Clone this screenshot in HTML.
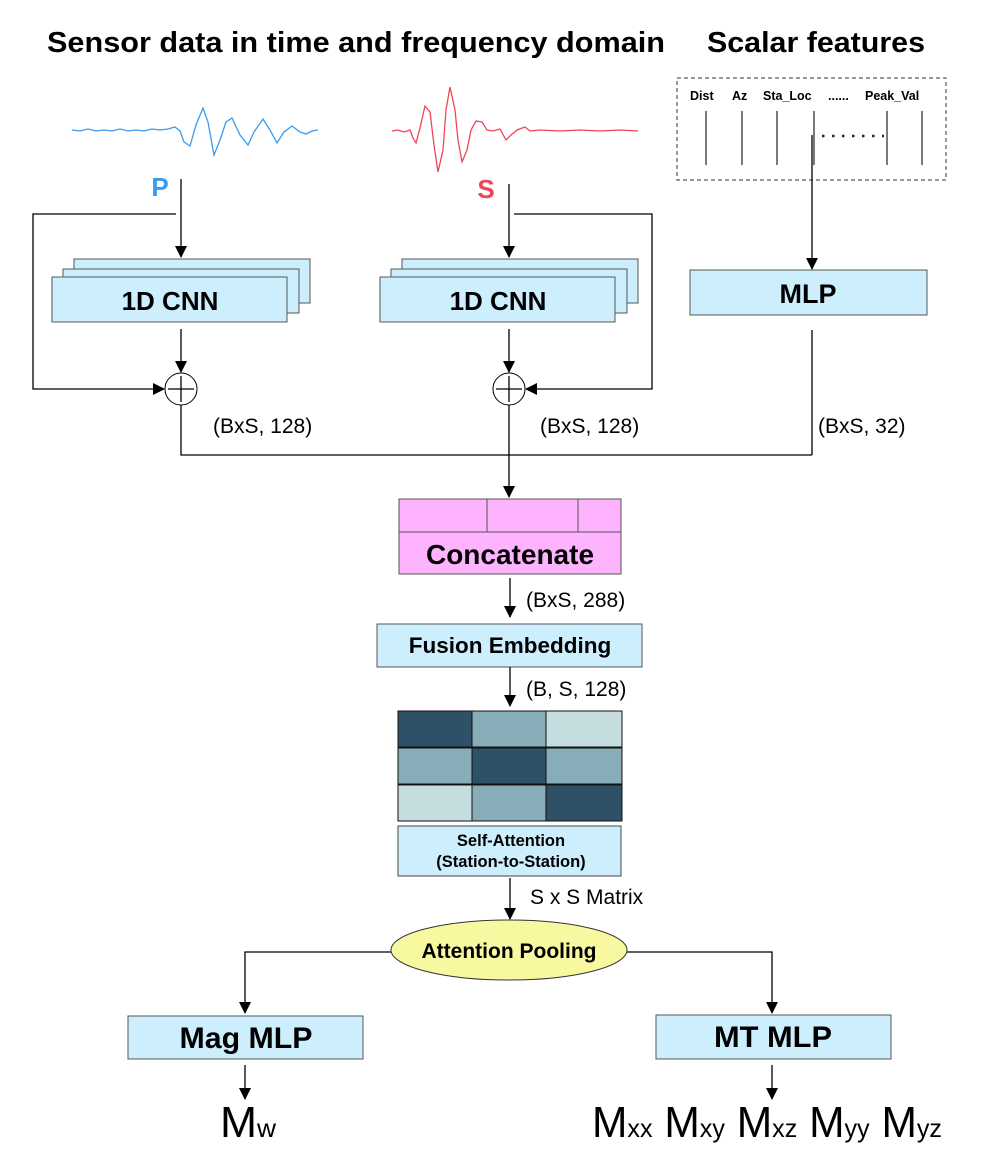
<!DOCTYPE html>
<html><head><meta charset="utf-8"><style>
html,body{margin:0;padding:0;background:#fff;}
svg{display:block;font-family:"Liberation Sans",Arial,sans-serif;}
</style></head><body>
<svg width="996" height="1168" viewBox="0 0 996 1168" xmlns="http://www.w3.org/2000/svg">
<defs>
<marker id="ah" markerWidth="12" markerHeight="12" refX="11" refY="6" orient="auto" markerUnits="userSpaceOnUse">
<path d="M0,0 L12,6 L0,12 z" fill="#000"/>
</marker>
</defs>
<text x="47" y="52" font-size="29" font-weight="bold" textLength="618" lengthAdjust="spacingAndGlyphs">Sensor data in time and frequency domain</text>
<text x="707" y="52" font-size="29" font-weight="bold" textLength="218" lengthAdjust="spacingAndGlyphs">Scalar features</text>

<!-- P waveform -->
<polyline fill="none" stroke="#3a9af0" stroke-width="1.3" points="72,130 80,131 88,129 96,131 104,130 112,131 120,129 128,131 136,130 144,131 152,129 160,130 168,129 175,127 180,131 184,142 190,146 196,125 203,108 208,122 214,155 220,140 226,122 232,118 240,135 248,145 254,132 263,119 270,130 277,143 284,132 292,126 300,132 306,134 312,131 318,130"/>
<!-- S waveform -->
<polyline fill="none" stroke="#f04558" stroke-width="1.3" points="392,131 398,130 404,132 410,130 413,138 416,143 420,128 425,106 430,112 434,145 438,172 443,150 446,110 450,87 455,110 458,140 462,162 467,150 471,130 476,121 482,122 487,130 493,131 500,129 506,140 511,135 517,130 525,127 530,131 540,130 560,131 580,130 600,131 620,130 638,131"/>
<text x="160" y="196" font-size="26" font-weight="bold" fill="#3a9af0" text-anchor="middle">P</text>
<text x="486" y="198" font-size="26" font-weight="bold" fill="#f04558" text-anchor="middle">S</text>

<!-- Scalar features box -->
<rect x="677" y="78" width="269" height="102" fill="none" stroke="#333" stroke-width="1" stroke-dasharray="4,3"/>
<g font-size="12.5" font-weight="bold">
<text x="690" y="100">Dist</text><text x="732" y="100">Az</text><text x="763" y="100">Sta_Loc</text><text x="828" y="100">......</text><text x="865" y="100">Peak_Val</text>
</g>
<g stroke="#333" stroke-width="1.3">
<line x1="706" y1="111" x2="706" y2="165"/><line x1="742" y1="111" x2="742" y2="165"/><line x1="777" y1="111" x2="777" y2="165"/><line x1="814" y1="111" x2="814" y2="165"/><line x1="887" y1="111" x2="887" y2="165"/><line x1="922" y1="111" x2="922" y2="165"/>
</g>
<line x1="822" y1="136" x2="884" y2="136" stroke="#222" stroke-width="2.5" stroke-dasharray="2.5,7.5"/>
<line x1="812" y1="135" x2="812" y2="269" stroke="#000" stroke-width="1.3" marker-end="url(#ah)"/>

<!-- P branch -->
<line x1="181" y1="179" x2="181" y2="257" stroke="#000" stroke-width="1.3" marker-end="url(#ah)"/>
<polyline points="176,214 33,214 33,389 164,389" fill="none" stroke="#000" stroke-width="1.3" marker-end="url(#ah)"/>
<rect x="74" y="259" width="236" height="44" fill="#cdeefc" stroke="#555"/>
<rect x="63" y="269" width="236" height="44" fill="#cdeefc" stroke="#555"/>
<rect x="52" y="277" width="235" height="45" fill="#cdeefc" stroke="#555"/>
<text x="170" y="310" font-size="26" font-weight="bold" text-anchor="middle">1D CNN</text>
<line x1="181" y1="329" x2="181" y2="372" stroke="#000" stroke-width="1.3" marker-end="url(#ah)"/>
<circle cx="181" cy="389" r="16" fill="#fff" stroke="#000" stroke-width="1"/>
<line x1="168" y1="389" x2="194" y2="389" stroke="#000" stroke-width="1.3"/><line x1="181" y1="376" x2="181" y2="402" stroke="#000" stroke-width="1.3"/>

<!-- S branch -->
<line x1="509" y1="184" x2="509" y2="257" stroke="#000" stroke-width="1.3" marker-end="url(#ah)"/>
<polyline points="514,214 652,214 652,389 526,389" fill="none" stroke="#000" stroke-width="1.3" marker-end="url(#ah)"/>
<rect x="402" y="259" width="236" height="44" fill="#cdeefc" stroke="#555"/>
<rect x="391" y="269" width="236" height="44" fill="#cdeefc" stroke="#555"/>
<rect x="380" y="277" width="235" height="45" fill="#cdeefc" stroke="#555"/>
<text x="498" y="310" font-size="26" font-weight="bold" text-anchor="middle">1D CNN</text>
<line x1="509" y1="329" x2="509" y2="372" stroke="#000" stroke-width="1.3" marker-end="url(#ah)"/>
<circle cx="509" cy="389" r="16" fill="#fff" stroke="#000" stroke-width="1"/>
<line x1="496" y1="389" x2="522" y2="389" stroke="#000" stroke-width="1.3"/><line x1="509" y1="376" x2="509" y2="402" stroke="#000" stroke-width="1.3"/>

<!-- MLP -->
<rect x="690" y="270" width="237" height="45" fill="#cdeefc" stroke="#555"/>
<text x="808" y="303" font-size="27" font-weight="bold" text-anchor="middle">MLP</text>
<line x1="812" y1="330" x2="812" y2="455" stroke="#000" stroke-width="1.3"/>

<g font-size="21">
<text x="213" y="433">(BxS, 128)</text>
<text x="540" y="433">(BxS, 128)</text>
<text x="818" y="433">(BxS, 32)</text>
</g>
<polyline points="181,405 181,455 812,455" fill="none" stroke="#000" stroke-width="1.3"/>
<line x1="509" y1="405" x2="509" y2="497" stroke="#000" stroke-width="1.3" marker-end="url(#ah)"/>

<!-- Concatenate -->
<rect x="399" y="499" width="222" height="75" fill="#fdb3fd" stroke="#555"/>
<line x1="399" y1="532" x2="621" y2="532" stroke="#555"/>
<line x1="487" y1="499" x2="487" y2="532" stroke="#555"/><line x1="578" y1="499" x2="578" y2="532" stroke="#555"/>
<text x="510" y="564" font-size="28" font-weight="bold" text-anchor="middle">Concatenate</text>
<line x1="510" y1="578" x2="510" y2="617" stroke="#000" stroke-width="1.3" marker-end="url(#ah)"/>
<text x="526" y="607" font-size="21">(BxS, 288)</text>

<!-- Fusion -->
<rect x="377" y="624" width="265" height="43" fill="#cdeefc" stroke="#555"/>
<text x="510" y="653" font-size="22.5" font-weight="bold" text-anchor="middle">Fusion Embedding</text>
<line x1="510" y1="667" x2="510" y2="706" stroke="#000" stroke-width="1.3" marker-end="url(#ah)"/>
<text x="526" y="696" font-size="21">(B, S, 128)</text>

<!-- Grid -->
<g stroke="#111" stroke-width="1">
<rect x="398" y="711" width="74" height="36" fill="#2f5167"/><rect x="472" y="711" width="74" height="36" fill="#86adb8"/><rect x="546" y="711" width="76" height="36" fill="#c6dde0"/>
<rect x="398" y="748" width="74" height="36" fill="#86adb8"/><rect x="472" y="748" width="74" height="36" fill="#2f5167"/><rect x="546" y="748" width="76" height="36" fill="#86adb8"/>
<rect x="398" y="785" width="74" height="36" fill="#c6dde0"/><rect x="472" y="785" width="74" height="36" fill="#86adb8"/><rect x="546" y="785" width="76" height="36" fill="#2f5167"/>
</g>
<rect x="398" y="826" width="223" height="50" fill="#cdeefc" stroke="#444"/>
<text x="511" y="846" font-size="16.5" font-weight="bold" text-anchor="middle">Self-Attention</text>
<text x="511" y="867" font-size="16.5" font-weight="bold" text-anchor="middle">(Station-to-Station)</text>
<line x1="510" y1="878" x2="510" y2="919" stroke="#000" stroke-width="1.3" marker-end="url(#ah)"/>
<text x="530" y="904" font-size="21">S x S Matrix</text>

<!-- Attention pooling -->
<polyline points="392,952 245,952 245,1013" fill="none" stroke="#000" stroke-width="1.3" marker-end="url(#ah)"/>
<polyline points="626,952 772,952 772,1013" fill="none" stroke="#000" stroke-width="1.3" marker-end="url(#ah)"/>
<ellipse cx="509" cy="950" rx="118" ry="30" fill="#f8f8a0" stroke="#333"/>
<text x="509" y="958" font-size="21" font-weight="bold" text-anchor="middle">Attention Pooling</text>

<rect x="128" y="1016" width="235" height="43" fill="#cdeefc" stroke="#555"/>
<text x="246" y="1048" font-size="30" font-weight="bold" text-anchor="middle" textLength="133" lengthAdjust="spacingAndGlyphs">Mag MLP</text>
<rect x="656" y="1015" width="235" height="44" fill="#cdeefc" stroke="#555"/>
<text x="773" y="1047" font-size="30" font-weight="bold" text-anchor="middle" textLength="118" lengthAdjust="spacingAndGlyphs">MT MLP</text>
<line x1="245" y1="1065" x2="245" y2="1099" stroke="#000" stroke-width="1.3" marker-end="url(#ah)"/>
<line x1="772" y1="1065" x2="772" y2="1099" stroke="#000" stroke-width="1.3" marker-end="url(#ah)"/>

<text x="220" y="1137" font-size="44" textLength="56" lengthAdjust="spacingAndGlyphs">M<tspan font-size="26">w</tspan></text>
<text x="592" y="1137" font-size="44" textLength="350" lengthAdjust="spacingAndGlyphs">M<tspan font-size="26">xx</tspan> M<tspan font-size="26">xy</tspan> M<tspan font-size="26">xz</tspan> M<tspan font-size="26">yy</tspan> M<tspan font-size="26">yz</tspan></text>
</svg>
</body></html>
